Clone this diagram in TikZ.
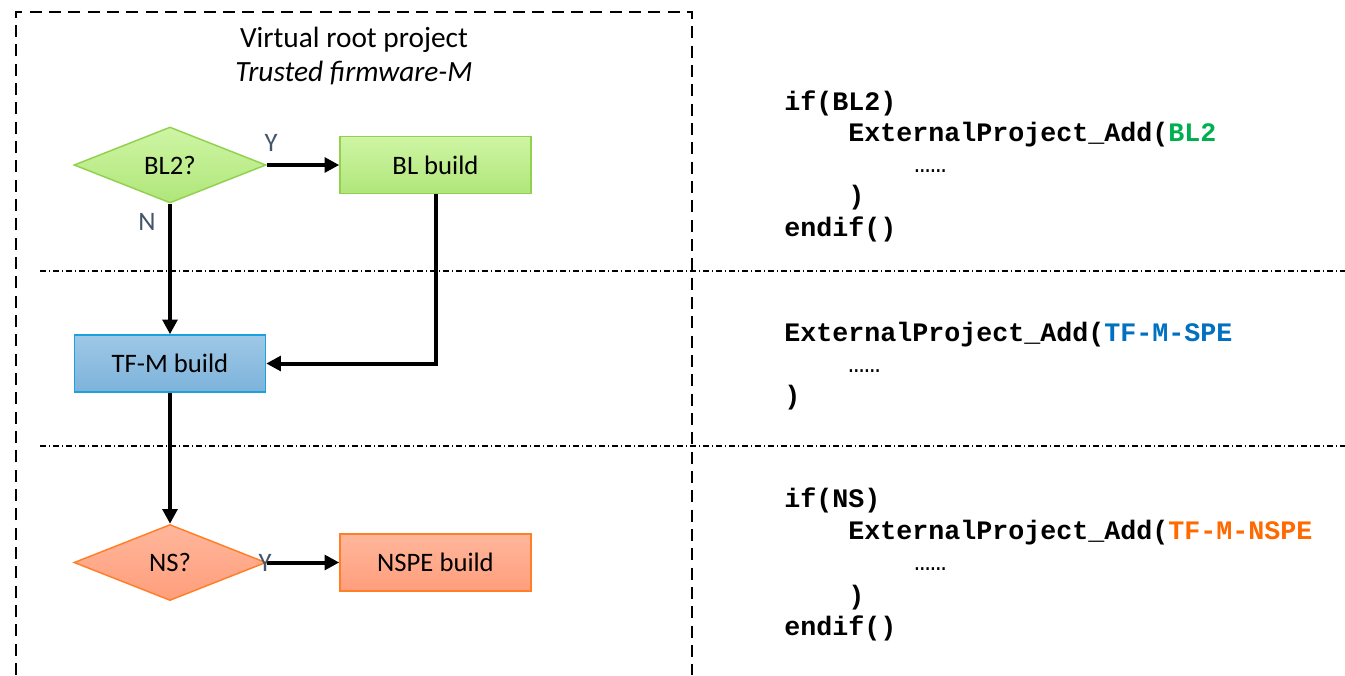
\documentclass[tikz,border=0pt]{standalone}
\usepackage{fontspec}
\setmainfont{Carlito}
\newfontfamily\codefont{Liberation Mono}
\usetikzlibrary{shapes.geometric,arrows.meta}
\definecolor{gborder}{HTML}{92D050}
\definecolor{gtop}{HTML}{CEF5A4}
\definecolor{gbot}{HTML}{B0E67A}
\definecolor{btop}{HTML}{9FC8E6}
\definecolor{bbot}{HTML}{7DB3DB}
\definecolor{bborder}{HTML}{1BA1DC}
\definecolor{otop}{HTML}{FFB69B}
\definecolor{obot}{HTML}{FF9E7C}
\definecolor{oborder}{HTML}{FF7F27}
\definecolor{codegreen}{HTML}{00B050}
\definecolor{codeblue}{HTML}{0070C0}
\definecolor{codeorange}{HTML}{FF6A00}
\definecolor{yncol}{HTML}{44546A}
\tikzset{
  lbl/.style={font=\fontsize{20pt}{24pt}\selectfont, text=black, inner sep=0pt},
  box/.style={lbl, rectangle, draw, line width=1.1pt, minimum width=143.25pt, minimum height=42.75pt},
  dia/.style={lbl, diamond, draw, line width=1.1pt, aspect=2.5, minimum width=144pt, minimum height=57pt},
  greenfill/.style={draw=gborder, top color=gtop, bottom color=gbot},
  bluefill/.style={draw=bborder, top color=btop, bottom color=bbot},
  orangefill/.style={draw=oborder, top color=otop, bottom color=obot},
  flow/.style={line width=3pt, -{Triangle[length=11pt,width=11pt]}},
  yn/.style={font=\fontsize{20pt}{24pt}\selectfont, text=yncol, inner sep=0pt},
  code/.style={font=\codefont\bfseries\fontsize{20pt}{24pt}\selectfont, inner sep=0pt, anchor=base west},
  dots/.style={font=\codefont\fontsize{20pt}{24pt}\selectfont, inner sep=0pt, anchor=base west},
  frame/.style={line width=2pt, dash pattern=on 9pt off 5.5pt},
  sep/.style={line width=1pt, dash pattern=on 4.5pt off 2.25pt on 0.75pt off 2.25pt},
}
\begin{document}
\begin{tikzpicture}[x=0.75pt,y=-0.75pt]
\useasboundingbox (0,0) rectangle (1345,675);
% frame
\draw[frame] (16,675) -- (16,12) -- (692,12) -- (692,675);
% separators
\draw[sep] (40,271) -- (1345,271);
\draw[sep] (40,446) -- (1345,446);
% title
\node[lbl, font=\fontsize{22pt}{26pt}\selectfont] (t1) at (354,40) {Virtual root project};
\node[lbl, font=\fontsize{22pt}{26pt}\selectfont\itshape] (t2) at (354,73) {Trusted firmware-M};
% flow nodes
\node[dia, greenfill] (bl2) at (170,165) {BL2?};
\node[box, greenfill] (bl) at (435.5,165) {BL build};
\node[box, bluefill] (tfm) at (170,363.5) {TF-M build};
\node[dia, orangefill] (ns) at (170,562.5) {NS?};
\node[box, orangefill] (nspe) at (435.5,562.5) {NSPE build};
% connectors
\draw[flow] (bl2.east) -- (bl.west);
\draw[flow] (bl2.south) -- (tfm.north);
\draw[flow] (bl.south) |- (tfm.east);
\draw[flow] (tfm.south) -- (ns.north);
\draw[flow] (ns.east) -- (nspe.west);
% labels
\node[yn] (y1) at (271,143) {Y};
\node[yn] (n1) at (147,222) {N};
\node[yn] (y2) at (265,563) {Y};
% code
\node[code] (c1) at (784,110) {if(BL2)};
\node[code] (c2) at (848,141) {ExternalProject\_Add(\textcolor{codegreen}{BL2}};
\node[dots] (c3) at (914,172) {……};
\node[code] (c4) at (848,204) {)};
\node[code] (c5) at (784,236) {endif()};
\node[code] (c6) at (784,341) {ExternalProject\_Add(\textcolor{codeblue}{TF-M-SPE}};
\node[dots] (c7) at (848,372) {……};
\node[code] (c8) at (784,404) {)};
\node[code] (c9) at (784,507) {if(NS)};
\node[code] (c10) at (848,539) {ExternalProject\_Add(\textcolor{codeorange}{TF-M-NSPE}};
\node[dots] (c11) at (914,570) {……};
\node[code] (c12) at (848,604) {)};
\node[code] (c13) at (784,635) {endif()};
\end{tikzpicture}
\end{document}
